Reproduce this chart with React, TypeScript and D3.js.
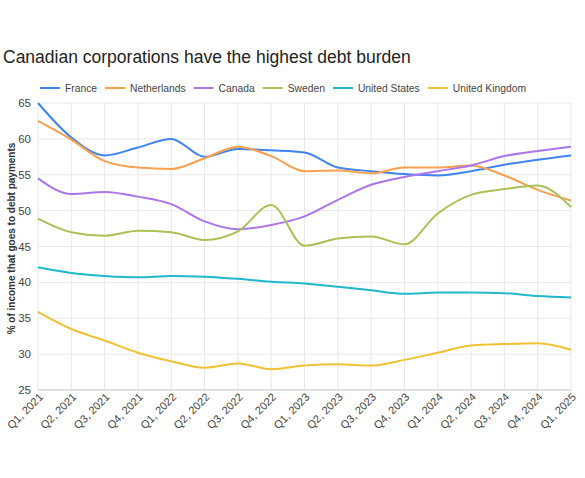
import { useRef, useEffect } from 'react'
import * as d3 from 'd3'

const quarters = [
  'Q1, 2021', 'Q2, 2021', 'Q3, 2021', 'Q4, 2021',
  'Q1, 2022', 'Q2, 2022', 'Q3, 2022', 'Q4, 2022',
  'Q1, 2023', 'Q2, 2023', 'Q3, 2023', 'Q4, 2023',
  'Q1, 2024', 'Q2, 2024', 'Q3, 2024', 'Q4, 2024',
  'Q1, 2025',
]

const france = [65.0, 60.2, 57.7, 58.8, 60.0, 57.5, 58.6, 58.4, 58.1, 56.0, 55.5, 55.1, 54.9, 55.5, 56.4, 57.1, 57.7]
const netherlands = [62.5, 59.9, 56.9, 56.0, 55.8, 57.3, 58.9, 57.6, 55.5, 55.6, 55.2, 56.0, 56.0, 56.3, 54.9, 52.9, 51.4]
const canada = [54.5, 52.3, 52.6, 51.95, 50.9, 48.5, 47.4, 48.0, 49.2, 51.5, 53.6, 54.7, 55.5, 56.3, 57.6, 58.3, 58.9]
const sweden = [48.9, 47.0, 46.5, 47.2, 47.0, 45.9, 47.1, 50.8, 45.1, 46.1, 46.4, 45.3, 49.6, 52.2, 53.0, 53.5, 50.5]
const unitedStates = [42.1, 41.3, 40.9, 40.7, 40.9, 40.8, 40.5, 40.1, 39.85, 39.4, 38.9, 38.4, 38.6, 38.6, 38.5, 38.1, 37.9]
const unitedKingdom = [35.9, 33.5, 31.9, 30.2, 29.0, 28.1, 28.7, 27.9, 28.4, 28.6, 28.4, 29.2, 30.2, 31.2, 31.4, 31.5, 30.6]

const seriesNames = ['France', 'Netherlands', 'Canada', 'Sweden', 'United States', 'United Kingdom']
const seriesValues = [france, netherlands, canada, sweden, unitedStates, unitedKingdom]
const colors = ['#3f84f0', '#f7a04e', '#ac76ea', '#a9c155', '#1fb8cc', '#f0c233']

const yTicks = [25, 30, 35, 40, 45, 50, 55, 60, 65]

export default function App() {
  const svgRef = useRef<SVGSVGElement>(null)

  useEffect(() => {
    if (!svgRef.current) return
    const w = 585
    const h = 478
    const margin = { top: 103, right: 14, bottom: 88, left: 38 }
    const innerW = w - margin.left - margin.right
    const innerH = h - margin.top - margin.bottom

    const svg = d3.select(svgRef.current)
    svg.selectAll('*').remove()
    svg.attr('width', w).attr('height', h)

    const font = '"Liberation Sans", Arial, Helvetica, sans-serif'

    // Title
    svg.append('text')
      .attr('x', 3)
      .attr('y', 63)
      .attr('fill', '#222')
      .attr('font-family', font)
      .attr('font-size', '17.5px')
      .text('Canadian corporations have the highest debt burden')

    // Legend: line swatch then label, laid out left to right
    let lx = 40
    seriesNames.forEach((name, i) => {
      const lg = svg.append('g').attr('transform', `translate(${lx},88)`)
      lg.append('line')
        .attr('x1', 0).attr('x2', 20).attr('y1', 0).attr('y2', 0)
        .attr('stroke', colors[i]).attr('stroke-width', 2)
      const t = lg.append('text')
        .attr('x', 25)
        .attr('y', 3.7)
        .attr('fill', '#444')
        .attr('font-family', font)
        .attr('font-size', '10.3px')
        .text(name)
      const tw = (t.node() as SVGTextElement).getComputedTextLength()
      lx += 25 + tw + 8
    })

    const g = svg.append('g').attr('transform', `translate(${margin.left},${margin.top})`)

    const x = d3.scalePoint<string>().domain(quarters).range([0, innerW])
    const y = d3.scaleLinear().domain([25, 65]).range([innerH, 0])

    // Grid
    g.selectAll('.hgrid')
      .data(yTicks)
      .join('line')
      .attr('x1', 0).attr('x2', innerW)
      .attr('y1', (d) => y(d)).attr('y2', (d) => y(d))
      .attr('stroke', '#e8e8e8')
      .attr('stroke-width', 1)

    g.selectAll('.vgrid')
      .data(quarters)
      .join('line')
      .attr('x1', (d) => x(d) ?? 0).attr('x2', (d) => x(d) ?? 0)
      .attr('y1', 0).attr('y2', innerH)
      .attr('stroke', '#e8e8e8')
      .attr('stroke-width', 1)

    // Bottom axis line
    g.append('line')
      .attr('x1', 0).attr('x2', innerW)
      .attr('y1', innerH).attr('y2', innerH)
      .attr('stroke', '#ccc')

    // Y tick labels
    g.selectAll('.ylab')
      .data(yTicks)
      .join('text')
      .attr('x', -7)
      .attr('y', (d) => y(d))
      .attr('dy', '0.35em')
      .attr('text-anchor', 'end')
      .attr('fill', '#444')
      .attr('font-family', font)
      .attr('font-size', '11.5px')
      .text((d) => d)

    // X tick labels
    g.selectAll('.xlab')
      .data(quarters)
      .join('text')
      .attr('transform', (d) => `translate(${(x(d) ?? 0) + 3},${innerH + 5}) rotate(-45)`)
      .attr('text-anchor', 'end')
      .attr('dy', '0.35em')
      .attr('fill', '#444')
      .attr('font-family', font)
      .attr('font-size', '11px')
      .text((d) => d)

    // Y axis title
    svg.append('text')
      .attr('transform', `translate(14.5,${margin.top + innerH / 2 - 8}) rotate(-90)`)
      .attr('text-anchor', 'middle')
      .attr('fill', '#333')
      .attr('font-family', font)
      .attr('font-weight', 'bold')
      .attr('font-size', '10px')
      .text('% of income that goes to debt payments')

    // Lines
    const line = d3
      .line<number>()
      .x((_, i) => x(quarters[i]) ?? 0)
      .y((d) => y(d))
      .curve(d3.curveMonotoneX)

    seriesValues.forEach((vals, i) => {
      g.append('path')
        .datum(vals)
        .attr('d', line)
        .attr('fill', 'none')
        .attr('stroke', colors[i])
        .attr('stroke-width', 2)
    })

    return () => {
      svg.selectAll('*').remove()
    }
  }, [])

  return (
    <div style={{ position: 'absolute', left: 0, top: 0, background: '#fff' }}>
      <svg ref={svgRef} />
    </div>
  )
}
